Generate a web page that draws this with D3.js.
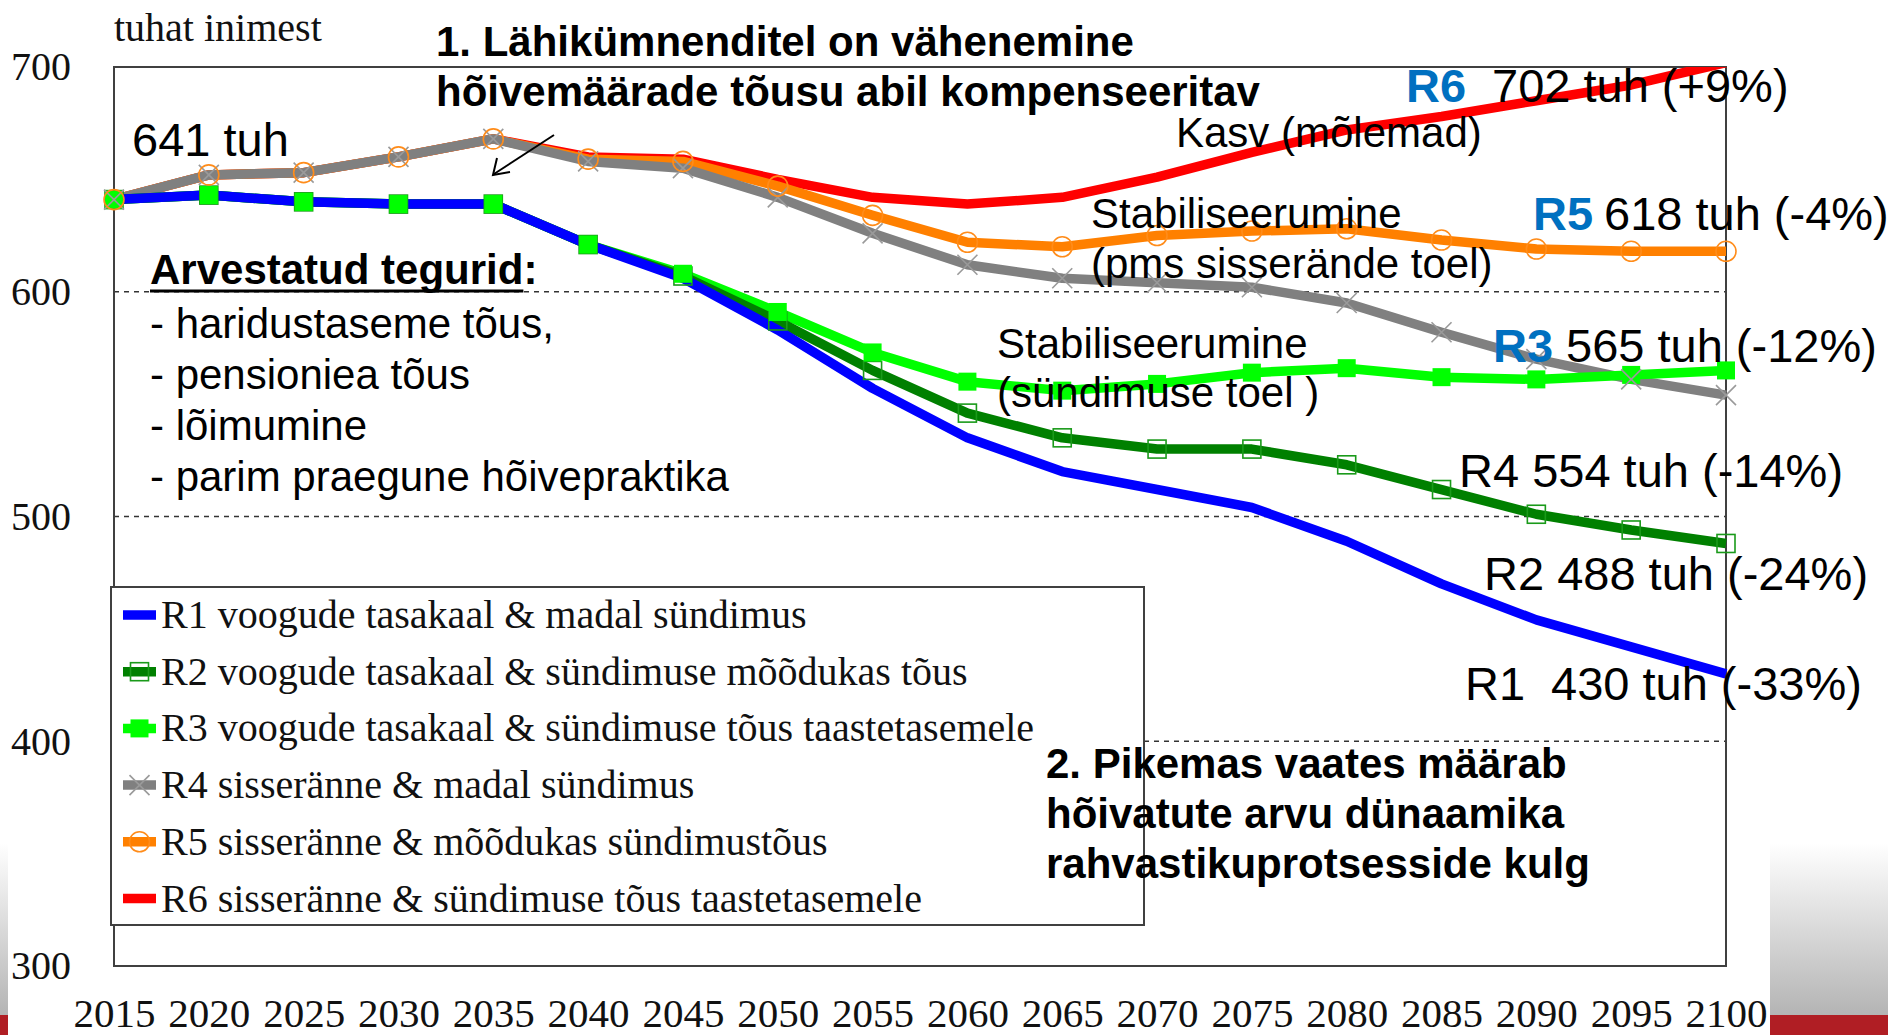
<!DOCTYPE html>
<html><head><meta charset="utf-8">
<script src="https://cdn.jsdelivr.net/npm/d3@7"></script>
<style>body{margin:0;background:#fff;}svg{display:block}</style>
</head><body><svg id="c" width="1888" height="1035"></svg>
<script>
const years = [2015,2020,2025,2030,2035,2040,2045,2050,2055,2060,2065,2070,2075,2080,2085,2090,2095,2100];
const r1 = [641,643,640,639,639,621,606,583,557,535,520,512,504,489,470,454,442,430];
const r2 = [641,643,640,639,639,621,607,587,565,546,535,530,530,523,512,501,494,488];
const r3 = [641,643,640,639,639,621,608,591,573,560,556,559,564,566,562,561,563,565];
const r4 = [641,652,653,660,668,658,655,642,626,612,606,604,602,595,582,570,561,554];
const r5 = [641,652,653,660,668,659,658,647,634,622,620,625,627,628,623,619,618,618];
const r6 = [641,652,653,660,668,660,659,650,642,639,642,651,662,672,678,685,692,702];
const yTicks = [300,400,500,600,700];
const gridValues = [400,500,600];
const seriesNames = [
  "R1 voogude tasakaal & madal sündimus",
  "R2 voogude tasakaal & sündimuse mõõdukas tõus",
  "R3 voogude tasakaal & sündimuse tõus taastetasemele",
  "R4 sisseränne & madal sündimus",
  "R5 sisseränne & mõõdukas sündimustõus",
  "R6 sisseränne & sündimuse tõus taastetasemele"
];
const seriesValues = [r1,r2,r3,r4,r5,r6];
const seriesColors = ["#0000FF","#008000","#00FF00","#808080","#FF8000","#FF0000"];
const seriesMarkers = ["none","squareOpen","square","x","circleOpen","none"];

const SERIF = "'Liberation Serif','Times New Roman',serif";
const SANS = "'Liberation Sans',Arial,sans-serif";

const svg = d3.select("#c");
const L = 114, R = 1726, T = 67, B = 966;
const x = d3.scaleLinear().domain([2015,2100]).range([L,R]);
const y = d3.scaleLinear().domain([300,700]).range([B,T]);

// decorations (slide template)
const defs = svg.append("defs");
const g1 = defs.append("linearGradient").attr("id","gr").attr("x1",0).attr("y1",0).attr("x2",0).attr("y2",1);
g1.append("stop").attr("offset","0").attr("stop-color","#ffffff");
g1.append("stop").attr("offset","1").attr("stop-color","#b4b4b4");
svg.append("rect").attr("x",0).attr("y",843).attr("width",8).attr("height",172).attr("fill","url(#gr)");
svg.append("rect").attr("x",0).attr("y",1015).attr("width",8).attr("height",20).attr("fill","#B01E24");
svg.append("rect").attr("x",1770).attr("y",843).attr("width",118).attr("height",172).attr("fill","url(#gr)");
svg.append("rect").attr("x",1770).attr("y",1015).attr("width",118).attr("height",20).attr("fill","#B01E24");

defs.append("clipPath").attr("id","clip").append("rect").attr("x",0).attr("y",T).attr("width",1888).attr("height",B-T);

// gridlines
svg.append("g").selectAll("line").data(gridValues).join("line")
  .attr("x1",L).attr("x2",R).attr("y1",d=>y(d)).attr("y2",d=>y(d))
  .attr("stroke","#333").attr("stroke-width",1.5).attr("stroke-dasharray","5,5");

// frame
svg.append("rect").attr("x",L).attr("y",T).attr("width",R-L).attr("height",B-T)
  .attr("fill","none").attr("stroke","#404040").attr("stroke-width",2);

// axes
const ya = svg.append("g").attr("transform",`translate(${L},0)`)
  .call(d3.axisLeft(y).tickValues(yTicks).tickSize(0).tickPadding(43).tickFormat(d3.format("d")));
ya.select(".domain").remove();
ya.selectAll("text").attr("font-family",SERIF).attr("font-size",40).attr("fill","#111");

const xa = svg.append("g").attr("transform",`translate(0,${B})`)
  .call(d3.axisBottom(x).tickValues(years).tickSize(0).tickPadding(32).tickFormat(d3.format("d")));
xa.select(".domain").remove();
xa.selectAll("text").attr("font-family",SERIF).attr("font-size",41).attr("fill","#111");

svg.append("text").attr("x",114).attr("y",41).attr("font-family",SERIF).attr("font-size",40)
  .attr("fill","#111").text("tuhat inimest");

// lines (drawn R6 first, R1 on top)
const line = d3.line().x((d,i)=>x(years[i])).y(d=>y(d));
const lg = svg.append("g").attr("clip-path","url(#clip)");
for (let s=5; s>=0; s--) {
  lg.append("path").attr("d",line(seriesValues[s])).attr("fill","none")
    .attr("stroke",seriesColors[s]).attr("stroke-width",9.5).attr("stroke-linejoin","round");
}

function drawMarker(g, type, cx, cy, color) {
  if (type==="square") g.append("rect").attr("x",cx-9).attr("y",cy-9).attr("width",18).attr("height",18).attr("fill",color);
  else if (type==="squareOpen") g.append("rect").attr("x",cx-9).attr("y",cy-9).attr("width",18).attr("height",18).attr("fill","none").attr("stroke","#1a9a1a").attr("stroke-width",1.6);
  else if (type==="circleOpen") g.append("circle").attr("cx",cx).attr("cy",cy).attr("r",10).attr("fill","none").attr("stroke","#FF8C1A").attr("stroke-width",1.6);
  else if (type==="x") g.append("path").attr("d",`M${cx-10},${cy-10}L${cx+10},${cy+10}M${cx-10},${cy+10}L${cx+10},${cy-10}`).attr("stroke","#9a9a9a").attr("stroke-width",1.6);
}
const mg = svg.append("g");
[1,2,3,4].forEach(s=>{
  seriesValues[s].forEach((v,i)=>{ if (v<=700) drawMarker(mg, seriesMarkers[s], x(years[i]), y(v), seriesColors[s]); });
});

// legend
const leg = svg.append("g");
leg.append("rect").attr("x",111).attr("y",587).attr("width",1033).attr("height",338)
  .attr("fill","#fff").attr("stroke","#404040").attr("stroke-width",2);
seriesNames.forEach((n,i)=>{
  const cy = 615 + i*56.7;
  leg.append("line").attr("x1",123).attr("x2",156).attr("y1",cy).attr("y2",cy)
    .attr("stroke",seriesColors[i]).attr("stroke-width",9.5);
  drawMarker(leg, seriesMarkers[i], 139.5, cy, seriesColors[i]);
  leg.append("text").attr("x",161).attr("y",cy+13).attr("font-family",SERIF).attr("font-size",40)
    .attr("fill","#111").text(n);
});

// arrow
svg.append("path").attr("d","M554,135L494,174").attr("stroke","#000").attr("stroke-width",2).attr("fill","none");
svg.append("path").attr("d","M497,158L493,175L510,172").attr("stroke","#000").attr("stroke-width",2).attr("fill","none");

// annotations
function txt(xp, yp, s, opt={}) {
  return svg.append("text").attr("x",xp).attr("y",yp).attr("font-family",SANS)
    .attr("font-size",opt.size||42).attr("font-weight",opt.bold?"bold":"normal")
    .attr("fill",opt.color||"#000").text(s);
}
txt(436,56,"1. Lähikümnenditel on vähenemine",{bold:true});
txt(436,106,"hõivemäärade tõusu abil kompenseeritav",{bold:true});
txt(132,156,"641 tuh",{size:47});
const arv = svg.append("text").attr("x",150).attr("y",284).attr("font-family",SANS).attr("font-size",42).attr("font-weight","bold");
const arvT = arv.append("tspan").text("Arvestatud tegurid");
arv.append("tspan").text(":");
const ulen = arv.node().getSubStringLength(0,18);
svg.append("line").attr("x1",150).attr("x2",150+ulen).attr("y1",291).attr("y2",291).attr("stroke","#000").attr("stroke-width",3);
txt(150,338,"- haridustaseme tõus,");
txt(150,389,"- pensioniea tõus");
txt(150,440,"- lõimumine");
txt(150,491,"- parim praegune hõivepraktika");
txt(1176,147,"Kasv (mõlemad)");
txt(1091,228,"Stabiliseerumine");
txt(1091,278,"(pms sisserände toel)");
txt(997,358,"Stabiliseerumine");
txt(997,407,"(sündimuse toel )");
txt(1406,102,"R6",{size:47,bold:true,color:"#0070C0"});
txt(1492,102,"702 tuh (+9%)",{size:47});
txt(1533,230,"R5",{size:47,bold:true,color:"#0070C0"});
txt(1604,230,"618 tuh (-4%)",{size:47});
txt(1493,362,"R3",{size:47,bold:true,color:"#0070C0"});
txt(1566,362,"565 tuh (-12%)",{size:47});
txt(1459,487,"R4 554 tuh (-14%)",{size:47});
txt(1484,590,"R2 488 tuh (-24%)",{size:47});
txt(1465,700,"R1",{size:47});
txt(1551,700,"430 tuh (-33%)",{size:47});
txt(1046,778,"2. Pikemas vaates määrab",{bold:true});
txt(1046,828,"hõivatute arvu dünaamika",{bold:true});
txt(1046,878,"rahvastikuprotsesside kulg",{bold:true});
</script></body></html>
